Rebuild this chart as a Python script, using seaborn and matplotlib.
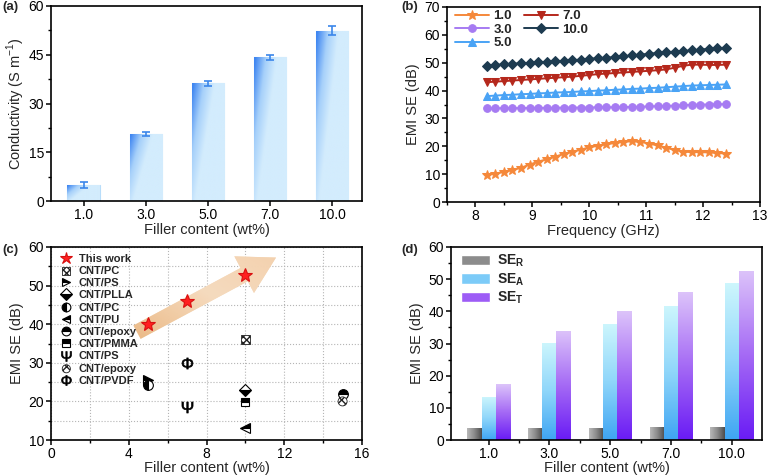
import numpy as np
import pandas as pd
import seaborn as sns
from matplotlib import pyplot as plt
from matplotlib.colors import LinearSegmentedColormap
from matplotlib.patches import FancyArrowPatch, Patch
from matplotlib.ticker import MultipleLocator, FixedLocator

# ---- data (a): conductivity vs filler content
filler = ['1.0', '3.0', '5.0', '7.0', '10.0']
conductivity = [4.9, 20.7, 36.2, 44.2, 52.4]
cond_err = [0.9, 0.55, 0.85, 0.85, 1.4]

# ---- data (b): EMI SE over X-band
freq = [8.2, 8.35, 8.5, 8.65, 8.8, 8.95, 9.1, 9.25, 9.4, 9.55, 9.7, 9.85, 10.0,
        10.15, 10.3, 10.45, 10.6, 10.75, 10.9, 11.05, 11.2, 11.35, 11.5, 11.65,
        11.8, 11.95, 12.1, 12.25, 12.4]
se_1 = [9.7, 10.2, 10.8, 11.5, 12.3, 13.4, 14.5, 15.3, 16.3, 17.2, 18.0, 18.8, 19.6,
        20.2, 20.7, 21.2, 21.6, 21.8, 21.6, 21.0, 20.3, 19.5, 18.7, 18.1,
        17.9, 17.9, 17.8, 17.6, 17.4]
se_3 = [33.6, 33.6, 33.7, 33.7, 33.7, 33.8, 33.8, 33.8, 33.8, 33.9, 33.9, 33.9, 33.9,
        34.0, 34.0, 34.0, 34.1, 34.1, 34.2, 34.3, 34.4, 34.5, 34.6, 34.8,
        34.9, 35.0, 35.0, 35.1, 35.1]
se_5 = [38.0, 38.2, 38.4, 38.5, 38.7, 38.8, 39.0, 39.1, 39.3, 39.4, 39.5, 39.7, 39.8,
        40.0, 40.1, 40.3, 40.4, 40.6, 40.7, 40.9, 41.0, 41.2, 41.4, 41.6,
        41.8, 41.9, 42.0, 42.1, 42.2]
se_7 = [43.0, 43.2, 43.4, 43.6, 43.8, 44.0, 44.2, 44.4, 44.6, 44.8, 45.0, 45.3, 45.6,
        45.9, 46.1, 46.3, 46.5, 46.7, 46.9, 47.1, 47.3, 47.6, 48.2, 48.9,
        49.3, 49.3, 49.2, 49.2, 49.3]
se_10 = [49.0, 49.2, 49.4, 49.6, 49.8, 49.9, 50.1, 50.3, 50.5, 50.7, 50.9, 51.1, 51.4,
         51.6, 51.8, 52.0, 52.3, 52.6, 52.9, 53.2, 53.5, 53.7, 54.0, 54.2,
         54.4, 54.7, 55.0, 55.2, 55.4]

# ---- data (c): comparison with literature
this_x = [5, 7, 10]
this_y = [40.0, 46.1, 52.8]
lit_labels = ['CNT/PC', 'CNT/PS', 'CNT/PLLA', 'CNT/PC', 'CNT/PU', 'CNT/epoxy',
              'CNT/PMMA', 'CNT/PS', 'CNT/epoxy', 'CNT/PVDF']
lit_x = [10, 5, 10, 5, 10, 15, 10, 7, 15, 7]
lit_y = [36.1, 25.5, 22.9, 24.2, 13.1, 22.0, 19.9, 18.6, 20.0, 30.0]

# ---- data (d): SE components
se_r = [3.8, 3.8, 3.7, 4.2, 3.9]
se_a = [13.5, 30.3, 36.2, 41.8, 48.7]
se_t = [17.3, 34.0, 40.0, 46.0, 52.6]

sns.set_style('ticks')
plt.rcParams['font.family'] = ['Liberation Sans', 'DejaVu Sans']
plt.rcParams['mathtext.fontset'] = 'custom'
plt.rcParams['mathtext.rm'] = 'Liberation Sans'
plt.rcParams['mathtext.bf'] = 'Liberation Sans:bold'
plt.rcParams['axes.linewidth'] = 1.2
plt.rcParams['xtick.major.size'] = 3.5
plt.rcParams['ytick.major.size'] = 3.5
plt.rcParams['xtick.minor.size'] = 2
plt.rcParams['ytick.minor.size'] = 2
plt.rcParams['xtick.major.pad'] = 1.5
plt.rcParams['ytick.major.pad'] = 1.5
plt.rcParams['xtick.major.width'] = 1.1
plt.rcParams['ytick.major.width'] = 1.1
plt.rcParams['xtick.minor.width'] = 1.0
plt.rcParams['ytick.minor.width'] = 1.0
plt.rcParams['xtick.labelsize'] = 10
plt.rcParams['ytick.labelsize'] = 10
plt.rcParams['axes.labelsize'] = 10.5
plt.rcParams['axes.edgecolor'] = 'black'
plt.rcParams['xtick.color'] = 'black'
plt.rcParams['ytick.color'] = 'black'


def gradient_fill(ax, patch, img, cmap):
    x0, y0 = patch.get_x(), patch.get_y()
    w, h = patch.get_width(), patch.get_height()
    im = ax.imshow(img, extent=[x0, x0 + w, y0, y0 + h], origin='lower',
                   aspect='auto', cmap=cmap, vmin=0, vmax=1,
                   interpolation='bilinear', zorder=patch.get_zorder() + 0.1)
    im.set_clip_path(patch)


fig = plt.figure(figsize=(7.68, 4.76), dpi=100)
ax_a = fig.add_axes([0.0664, 0.5777, 0.405, 0.4097])
ax_b = fig.add_axes([0.582, 0.5756, 0.4076, 0.4097])
ax_c = fig.add_axes([0.0664, 0.0756, 0.405, 0.4055])
ax_d = fig.add_axes([0.5872, 0.0756, 0.405, 0.4055])

# ---------------- (a)
df_a = pd.DataFrame({'filler': filler, 'cond': conductivity})
sns.barplot(data=df_a, x='filler', y='cond', ax=ax_a, width=0.52, color='#cfe9fc',
            edgecolor='#b8ddfa', linewidth=0.8, errorbar=None)
cmap_a = LinearSegmentedColormap.from_list('a', ['#d3ecfd', '#a6d0fa', '#3f86f1'])
u = np.linspace(0, 1, 60)[None, :]
v = np.linspace(0, 1, 120)[:, None]
img_a = np.clip(1.05 - 1.5 * u - 0.9 * (1 - v), 0, 1)
for p in ax_a.patches:
    gradient_fill(ax_a, p, img_a, cmap_a)
centers = [p.get_x() + p.get_width() / 2 for p in ax_a.patches]
ax_a.errorbar(centers, conductivity, yerr=cond_err, fmt='none', ecolor='#3b86ea',
              capsize=3, elinewidth=1.2, capthick=1.2, zorder=5)
ax_a.set_xlim(-0.525, 4.48)
ax_a.set_ylim(0, 60)
ax_a.yaxis.set_major_locator(MultipleLocator(15))
ax_a.yaxis.set_minor_locator(MultipleLocator(7.5))
ax_a.set_xlabel('Filler content (wt%)', labelpad=1)
ax_a.set_ylabel('Conductivity (S m$^{-1}$)', labelpad=1)

# ---------------- (b)
series_b = [('1.0', se_1, '#f5883a', '*', 7.5),
            ('3.0', se_3, '#a67bf2', 'o', 5.5),
            ('5.0', se_5, '#4aa3f5', '^', 6),
            ('7.0', se_7, '#b5281c', 'v', 6),
            ('10.0', se_10, '#1d3b50', 'D', 5)]
for lab, vals, col, mk, ms in series_b:
    sns.lineplot(x=freq, y=vals, ax=ax_b, color=col, marker=mk, markersize=ms,
                 markeredgecolor=col, linewidth=1.4, label=lab)
ax_b.legend(loc='upper left', ncol=2, frameon=False,
            prop={'weight': 'bold', 'size': 9.5}, handlelength=2.6,
            labelspacing=0.1, columnspacing=0.9, handletextpad=0.3,
            borderaxespad=0.2, bbox_to_anchor=(0.0, 1.025))
ax_b.set_xlim(7.5, 13)
ax_b.set_ylim(0, 70)
ax_b.xaxis.set_major_locator(MultipleLocator(1))
ax_b.xaxis.set_minor_locator(MultipleLocator(0.5))
ax_b.yaxis.set_major_locator(MultipleLocator(10))
ax_b.yaxis.set_minor_locator(MultipleLocator(5))
ax_b.set_xlabel('Frequency (GHz)', labelpad=1)
ax_b.set_ylabel('EMI SE (dB)', labelpad=3)

# ---------------- (c)
ax_c.set_xlim(0, 16)
ax_c.set_ylim(10, 60)
arrow = FancyArrowPatch((4.3, 37.6), (11.7, 57.6),
                        arrowstyle='simple,head_width=1.15,head_length=1.0,tail_width=0.42',
                        mutation_scale=26, facecolor='#f3d2ad', edgecolor='none',
                        alpha=0.9, zorder=2)
ax_c.add_patch(arrow)
cmap_c = LinearSegmentedColormap.from_list('c', ['#eab680', '#f6dcc0', '#f3cfab'])
gx = np.linspace(0, 1, 100)[None, :]
gy = np.linspace(0, 1, 100)[:, None]
img_c = np.clip(0.55 * gx + 0.45 * gy, 0, 1)
im = ax_c.imshow(img_c, extent=[4.0, 12.4, 36.0, 59.5], origin='lower', aspect='auto',
                 cmap=cmap_c, vmin=0, vmax=1, zorder=2.1, alpha=0.9)
im.set_clip_path(arrow)

sns.lineplot(x=this_x, y=this_y, ax=ax_c, marker='*', markersize=10, color='#ff2020',
             markeredgecolor='#d81010', markeredgewidth=0.8, linestyle='',
             label='This work', zorder=5)
lit_styles = [('s', None, 'xxxxx', 6.5),
              ('>', 'top', None, 6.5),
              ('D', 'bottom', None, 6.5),
              ('o', 'left', None, 7),
              ('<', 'top', None, 6.5),
              ('o', 'top', None, 7),
              ('s', 'top', None, 6),
              (r'$\Psi$', None, None, 8),
              ('o', None, 'xxxx', 6.5),
              (r'$\Phi$', None, None, 8)]
for lab, xx, yy, (mk, fs, hatch, ms) in zip(lit_labels, lit_x, lit_y, lit_styles):
    if hatch is not None:
        sns.scatterplot(x=[xx], y=[yy], ax=ax_c, marker=mk, s=ms ** 2, facecolor='white',
                        edgecolor='#222222', hatch=hatch, linewidth=0.6, label=lab,
                        zorder=5)
    elif fs is not None:
        sns.lineplot(x=[xx], y=[yy], ax=ax_c, marker=mk, markersize=ms, color='black',
                     markerfacecolor='black', markerfacecoloralt='white',
                     markeredgecolor='black', markeredgewidth=0.8, fillstyle=fs,
                     linestyle='', label=lab, zorder=5)
    else:
        sns.lineplot(x=[xx], y=[yy], ax=ax_c, marker=mk, markersize=ms, color='black',
                     markeredgecolor='black', markeredgewidth=0.5, linestyle='',
                     label=lab, zorder=5)
h, l = ax_c.get_legend_handles_labels()
ax_c.legend(h, l, loc='upper left', frameon=False, prop={'weight': 'bold', 'size': 8},
            labelspacing=0.2, handlelength=1.0, handletextpad=0.6, borderaxespad=0.2,
            markerscale=0.9, bbox_to_anchor=(0.01, 1.0))
ax_c.xaxis.set_major_locator(MultipleLocator(4))
ax_c.xaxis.set_minor_locator(MultipleLocator(2))
ax_c.yaxis.set_major_locator(MultipleLocator(10))
ax_c.yaxis.set_minor_locator(MultipleLocator(5))
ax_c.grid(which='both', linestyle=':', color='#b5b5b5', linewidth=0.8)
ax_c.set_axisbelow(True)
ax_c.set_xlabel('Filler content (wt%)', labelpad=0)
ax_c.set_ylabel('EMI SE (dB)', labelpad=3)

# ---------------- (d)
comp_order = ['SE_R', 'SE_A', 'SE_T']
df_d = pd.DataFrame({'filler': filler * 3,
                     'comp': ['SE_R'] * 5 + ['SE_A'] * 5 + ['SE_T'] * 5,
                     'se': se_r + se_a + se_t})
sns.barplot(data=df_d, x='filler', y='se', hue='comp', hue_order=comp_order,
            palette=['#8a8a8a', '#6fc2f7', '#9b55f5'], width=0.7, ax=ax_d,
            errorbar=None, legend=False, edgecolor='none', linewidth=0)
cmap_r = LinearSegmentedColormap.from_list('r', ['#b8b8b8', '#8a8a8a', '#4e4e4e'])
cmap_sa = LinearSegmentedColormap.from_list('sa', ['#3fa5f3', '#8fd6fa', '#cdf6fd'])
cmap_st = LinearSegmentedColormap.from_list('st', ['#6a1cf4', '#a56af5', '#dcc3fa'])
img_h = np.tile(np.linspace(0, 1, 40)[None, :], (20, 1))
img_v = np.tile(np.linspace(0, 1, 120)[:, None], (1, 10))
for cont, cm, img in zip(ax_d.containers, [cmap_r, cmap_sa, cmap_st], [img_h, img_v, img_v]):
    for p in cont.patches:
        gradient_fill(ax_d, p, img, cm)
leg_handles = [Patch(facecolor='#8c8c8c'), Patch(facecolor='#7ccbf8'),
               Patch(facecolor='#9d5cf6')]
leg_labels = [r'$\mathbf{SE}_{\mathbf{R}}$', r'$\mathbf{SE}_{\mathbf{A}}$',
              r'$\mathbf{SE}_{\mathbf{T}}$']
ax_d.legend(leg_handles, leg_labels, loc='upper left', frameon=False,
            prop={'weight': 'bold', 'size': 10}, handlelength=2.1, handleheight=0.75,
            labelspacing=0.15, handletextpad=0.5, borderaxespad=0.3,
            bbox_to_anchor=(0.0, 1.02))
ax_d.set_xlim(-0.62, 4.5)
ax_d.set_ylim(0, 60)
ax_d.xaxis.set_minor_locator(FixedLocator([0.5, 1.5, 2.5, 3.5]))
ax_d.yaxis.set_major_locator(MultipleLocator(10))
ax_d.yaxis.set_minor_locator(MultipleLocator(5))
ax_d.set_xlabel('Filler content (wt%)', labelpad=0)
ax_d.set_ylabel('EMI SE (dB)', labelpad=3)

for ax in [ax_a, ax_b, ax_c, ax_d]:
    ax.tick_params(which='both', direction='out', top=False, right=False)
    for s in ax.spines.values():
        s.set_visible(True)
        s.set_linewidth(1.2)
        s.set_color('black')

fig.text(0.003, 0.997, '(a)', weight='bold', size=9.5, va='top')
fig.text(0.522, 0.997, '(b)', weight='bold', size=9.5, va='top')
fig.text(0.003, 0.487, '(c)', weight='bold', size=9.5, va='top')
fig.text(0.522, 0.487, '(d)', weight='bold', size=9.5, va='top')

fig.savefig('out.png', dpi=100)
